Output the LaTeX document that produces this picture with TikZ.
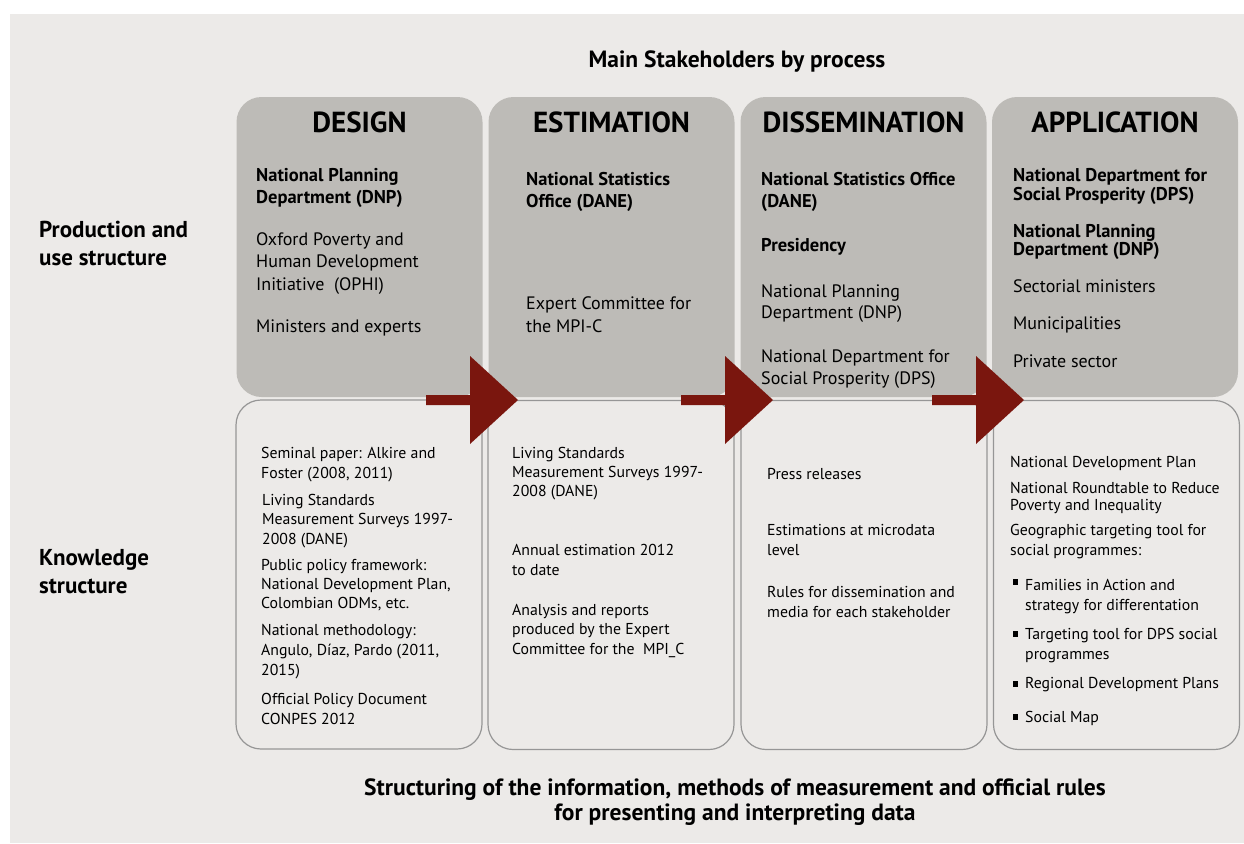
\documentclass[tikz,border=0pt]{standalone}
\usepackage{fontspec}
\setmainfont{PT Sans}
\usetikzlibrary{positioning}

\definecolor{panelgray}{RGB}{236,234,232}
\definecolor{stagegray}{RGB}{189,187,183}
\definecolor{linegray}{RGB}{150,150,150}
\definecolor{arrowred}{RGB}{122,22,14}
\lineskiplimit=-20pt

\tikzset{
  stagebox/.style={fill=stagegray, rounded corners=25pt, minimum width=246pt, minimum height=300pt, inner sep=0pt},
  knowbox/.style={draw=linegray, line width=1.2pt, fill=panelgray, rounded corners=25pt, minimum width=246pt, minimum height=349pt, inner sep=0pt},
  stagetitle/.style={anchor=base, inner sep=0pt, font=\fontsize{29}{32}\selectfont\bfseries},
  % multi-line nodes: anchor sits on the last line
  actor/.style={anchor=base west, align=left, inner sep=0pt, font=\fontsize{18}{22.5}\selectfont},
  keyactor/.style={actor, font=\fontsize{18.5}{21.5}\selectfont\bfseries},
  source/.style={anchor=base west, align=left, inner sep=0pt, font=\fontsize{15.8}{19.5}\selectfont},
  rowlabel/.style={anchor=base west, align=left, inner sep=0pt, font=\fontsize{23}{27.5}\selectfont\bfseries},
  caption/.style={anchor=base, align=center, inner sep=0pt, font=\fontsize{23.5}{25}\selectfont\bfseries},
  bulletmark/.style={fill=black, minimum size=5.5pt, inner sep=0pt}
}

\begin{document}
\begin{tikzpicture}[x=1pt, y=-1pt]
  \useasboundingbox (0,0) rectangle (1244,843);
  \fill[white] (0,0) rectangle (1244,843);
  \fill[panelgray] (10,14) rectangle (1244,843);

  % headings
  \node[caption] (head) at (737,67) {Main Stakeholders by process};
  \node[rowlabel] (prodlabel) at (39,265) {Production and\\use structure};
  \node[rowlabel, font=\fontsize{23}{28}\selectfont\bfseries] (knowlabel) at (39,593) {Knowledge\\structure};
  \node[caption] (foot) at (735,820) {Structuring of the information, methods of measurement and official rules\\for presenting and interpreting data};

  % process boxes
  \node[stagebox] (design) at (359.5,247) {};
  \node[stagebox] (estim) at (611.5,247) {};
  \node[stagebox] (dissem) at (863.5,247) {};
  \node[stagebox] (applic) at (1115,247) {};

  \node[knowbox] (designK) at (359,574.5) {};
  \node[knowbox] (estimK) at (611,575) {};
  \node[knowbox] (dissemK) at (864,575) {};
  \node[knowbox] (applicK) at (1116.5,575) {};

  \node[stagetitle] (designT) at ([yshift=-36pt]design.north) {DESIGN};
  \node[stagetitle] (estimT) at ([yshift=-36pt]estim.north) {ESTIMATION};
  \node[stagetitle] (dissemT) at ([yshift=-36pt]dissem.north) {DISSEMINATION};
  \node[stagetitle] (applicT) at ([yshift=-36pt]applic.north) {APPLICATION};

  % stakeholders
  \node[keyactor] (d1) at (256,203) {National Planning\\Department (DNP)};
  \node[actor] (d2) at (256,290) {Oxford Poverty and\\Human Development\\Initiative~~(OPHI)};
  \node[actor] (d3) at (256,332) {Ministers and experts};

  \node[keyactor] (e1) at (526,207) {National Statistics\\Office (DANE)};
  \node[actor, font=\fontsize{18}{23}\selectfont] (e2) at (526,332) {Expert Committee for\\the MPI-C};

  \node[keyactor, font=\fontsize{18.5}{22}\selectfont\bfseries] (s1) at (761,207) {National Statistics Office\\(DANE)};
  \node[keyactor] (s2) at (761,251) {Presidency};
  \node[actor, font=\fontsize{18}{21}\selectfont] (s3) at (761,318) {National Planning\\Department (DNP)};
  \node[actor, font=\fontsize{18}{22}\selectfont] (s4) at (761,384) {National Department for\\Social Prosperity (DPS)};

  \node[keyactor, font=\fontsize{18.5}{19}\selectfont\bfseries] (a1) at (1013,200) {National Department for\\Social Prosperity (DPS)};
  \node[keyactor, font=\fontsize{18.5}{18}\selectfont\bfseries] (a2) at (1013,255) {National Planning\\Department (DNP)};
  \node[actor] (a3) at (1013,292) {Sectorial ministers};
  \node[actor] (a4) at (1013,329) {Municipalities};
  \node[actor] (a5) at (1013,367) {Private sector};

  % knowledge
  \node[source, font=\fontsize{15.8}{20}\selectfont] (dk1) at (261,478) {Seminal paper: Alkire and\\Foster (2008, 2011)};
  \node[source] (dk2) at (262,544) {Living Standards\\Measurement Surveys 1997-\\2008 (DANE)};
  \node[source, font=\fontsize{15.8}{19}\selectfont] (dk3) at (261,608) {Public policy framework:\\National Development Plan,\\Colombian ODMs, etc.};
  \node[source, font=\fontsize{15.8}{20}\selectfont] (dk4) at (261,675) {National methodology:\\Angulo, Díaz, Pardo (2011,\\2015)};
  \node[source] (dk5) at (261,724) {Official Policy Document\\CONPES 2012};

  \node[source, font=\fontsize{15.8}{19}\selectfont] (ek1) at (512,496) {Living Standards\\Measurement Surveys 1997-\\2008 (DANE)};
  \node[source, font=\fontsize{15.8}{20}\selectfont] (ek2) at (512,575) {Annual estimation 2012\\to date};
  \node[source] (ek3) at (512,654) {Analysis and reports\\produced by the Expert\\Committee for the~~MPI\_C};

  \node[source] (sk1) at (767,479) {Press releases};
  \node[source, font=\fontsize{15.8}{20}\selectfont] (sk2) at (767,555) {Estimations at microdata\\level};
  \node[source, font=\fontsize{15.8}{20}\selectfont] (sk3) at (767,617) {Rules for dissemination and\\media for each stakeholder};

  \node[source] (ak1) at (1010,467) {National Development Plan};
  \node[source, font=\fontsize{15.8}{17}\selectfont] (ak2) at (1010,510) {National Roundtable to Reduce\\Poverty and Inequality};
  \node[source, font=\fontsize{15.8}{20}\selectfont] (ak3) at (1010,555) {Geographic targeting tool for\\social programmes:};
  \node[source, font=\fontsize{15.8}{20}\selectfont] (ak4) at (1025,610) {Families in Action and\\strategy for differentation};
  \node[source, font=\fontsize{15.8}{20}\selectfont] (ak5) at (1025,659) {Targeting tool for DPS social\\programmes};
  \node[source] (ak6) at (1025,688) {Regional Development Plans};
  \node[source] (ak7) at (1025,722) {Social Map};
  \node[bulletmark] (b4) at (1015.5,582) {};
  \node[bulletmark] (b5) at (1015.5,634) {};
  \node[bulletmark] (b6) at (1015.5,684) {};
  \node[bulletmark] (b7) at (1015.5,717) {};

  % arrows between stages
  \foreach \xs in {426,681,932}
    \fill[arrowred] (\xs,395) -- ++(44,0) -- ++(0,-39) -- ++(48,44) -- ++(-48,44) -- ++(0,-39) -- ++(-44,0) -- cycle;
\end{tikzpicture}
\end{document}
